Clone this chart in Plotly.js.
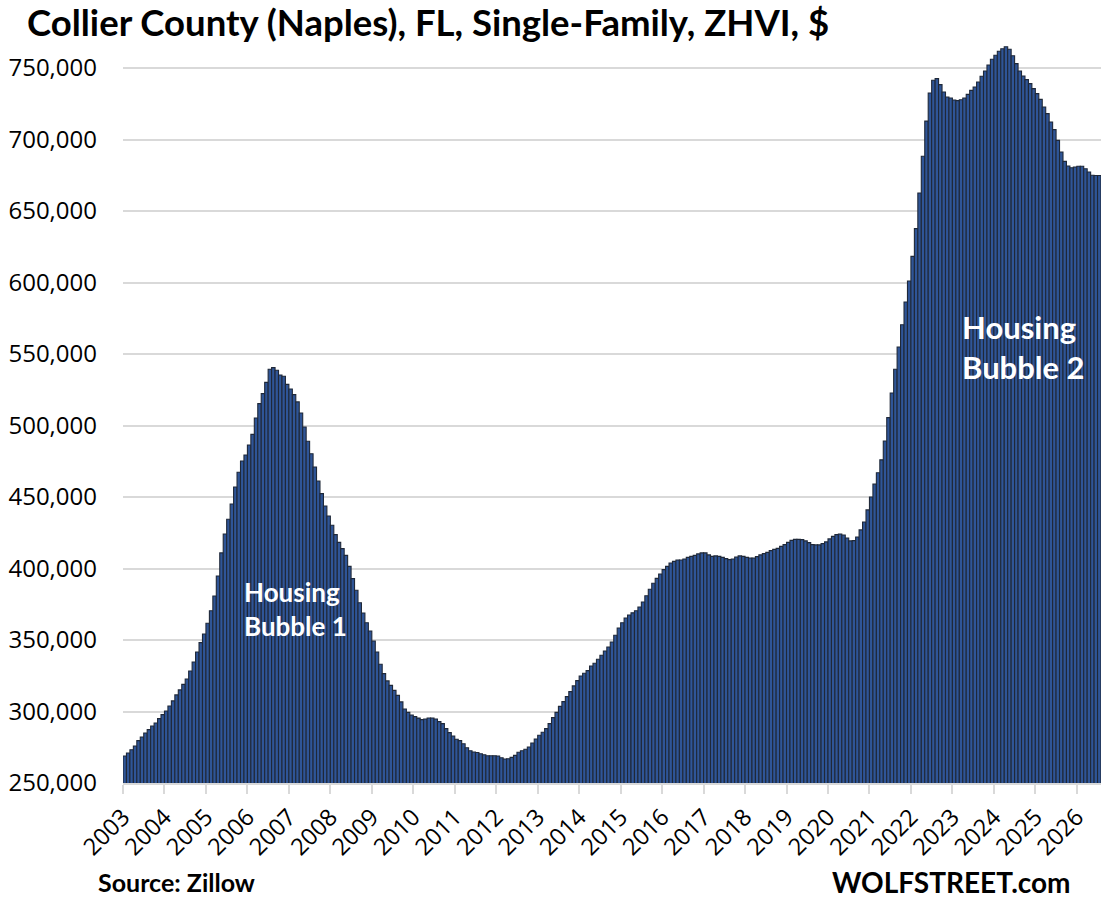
<!DOCTYPE html>
<html>
<head>
<meta charset="utf-8">
<script src="https://cdn.plot.ly/plotly-3.0.1.min.js"></script>
<style>
  html, body { margin: 0; padding: 0; background: #ffffff; }
  #chart { width: 1108px; height: 903px; }
</style>
</head>
<body>
<div id="chart"></div>
<script>
// Collier County (Naples), FL, Single-Family ZHVI, monthly, starting Jan 2003 ($)
const zhvi2003to2005 = [
  268900, 271000, 273300, 275900, 279600, 282200, 285000, 287300, 289900, 292000, 295000, 297800,
  300400, 303900, 307400, 311600, 315100, 319000, 322700, 328300, 334600, 341600, 348200, 354200,
  361700, 370500, 380800, 394800, 410900, 424100, 434400, 445100, 457000, 467300, 475200, 479400
];
const zhvi2006to2008 = [
  486400, 493800, 505300, 515300, 522300, 530200, 539300, 540500, 538600, 535300, 534400, 528800,
  525500, 521600, 516500, 508800, 499000, 489000, 480300, 471000, 461200, 452400, 443700, 436700,
  430200, 423700, 418300, 413900, 409200, 401500, 392900, 384800, 376100, 368900, 362100, 356300
];
const zhvi2009to2011 = [
  349300, 341600, 333000, 326500, 321400, 318300, 314800, 311300, 306700, 301800, 299400, 297600,
  296400, 295400, 294300, 294800, 295500, 295500, 294800, 292900, 291500, 288000, 285200, 282900,
  280600, 279600, 277500, 274700, 272600, 271700, 271300, 270500, 269800, 269100, 269100, 269100
];
const zhvi2012to2014 = [
  268900, 267700, 266800, 267000, 267900, 269300, 271500, 272600, 273600, 275200, 278000, 280800,
  283400, 285500, 288000, 291500, 295700, 299400, 303600, 306900, 310400, 313900, 317900, 321600,
  324800, 326700, 328600, 331800, 333700, 336500, 339300, 342300, 345100, 348600, 353300, 358400
];
const zhvi2015to2017 = [
  362100, 365400, 367500, 369000, 370500, 373100, 376600, 381000, 385500, 389700, 393100, 396200,
  399200, 401500, 403900, 405000, 406000, 406000, 406700, 407800, 408500, 409200, 410200, 410900,
  410900, 409500, 408500, 408800, 408500, 407800, 406900, 406200, 406700, 408100, 408800, 408500
];
const zhvi2018to2020 = [
  407800, 407400, 407400, 408300, 409500, 410400, 411300, 412500, 413400, 414100, 415500, 416700,
  418300, 419700, 420400, 420400, 420200, 419300, 418100, 416700, 416500, 416500, 417400, 418600,
  420700, 422500, 423700, 424100, 423400, 421300, 419300, 419500, 422000, 427000, 432500, 441000
];
const zhvi2021to2023 = [
  450000, 459000, 467000, 476000, 489200, 505500, 522700, 539300, 554900, 570500, 586400, 601100,
  618300, 637700, 662600, 688300, 712900, 732500, 741400, 742600, 738400, 733200, 729700, 729000,
  727600, 727200, 727800, 729000, 731600, 734400, 736700, 740200, 744200, 747900, 752100, 756100
];
const zhvi2024to2026 = [
  758900, 761700, 763500, 764900, 763100, 758600, 753100, 747900, 744400, 741900, 739100, 735600,
  732100, 728100, 722700, 718100, 712300, 706900, 699400, 691300, 684700, 681500, 680300, 680800,
  681300, 681300, 679600, 677300, 675000, 674800, 674800
];
const yearLabels = ['2003','2004','2005','2006','2007','2008','2009','2010','2011','2012','2013','2014',
                    '2015','2016','2017','2018','2019','2020','2021','2022','2023','2024','2025','2026'];
const yTickValues = [250000, 300000, 350000, 400000, 450000, 500000, 550000, 600000, 650000, 700000, 750000];

const zhvi = [].concat(zhvi2003to2005, zhvi2006to2008, zhvi2009to2011, zhvi2012to2014,
                       zhvi2015to2017, zhvi2018to2020, zhvi2021to2023, zhvi2024to2026);
const monthIndex = zhvi.map((_, i) => i);
const yearTickPos = yearLabels.map((_, i) => i * 12 - 0.5);

const FONT = 'Lato, "Noto Sans", "DejaVu Sans", sans-serif';
const TICKFONT = '"Open Sans", Lato, "DejaVu Sans", sans-serif';

const trace = {
  type: 'bar',
  x: monthIndex,
  y: zhvi,
  marker: { color: '#2F5597', line: { color: '#1F2838', width: 1.1 } },
  hoverinfo: 'y'
};

const layout = {
  width: 1108,
  height: 903,
  paper_bgcolor: '#ffffff',
  plot_bgcolor: '#ffffff',
  margin: { l: 123, r: 7, t: 40, b: 120, pad: 0 },
  bargap: 0,
  showlegend: false,
  title: {
    text: '<b>Collier County (Naples), FL, Single-Family, ZHVI, $</b>',
    x: 27 / 1108, xanchor: 'left', xref: 'container',
    y: 1 - 23 / 903, yanchor: 'middle', yref: 'container',
    font: { family: FONT, size: 36.5, color: '#000000' }
  },
  xaxis: {
    range: [-0.5, zhvi.length - 0.5],
    tickmode: 'array',
    tickvals: yearTickPos,
    ticktext: yearLabels,
    tickangle: -45,
    ticks: 'outside',
    ticklen: 9,
    tickwidth: 2,
    tickcolor: '#d9d9d9',
    showline: true,
    linecolor: '#d9d9d9',
    linewidth: 2,
    showgrid: false,
    zeroline: false,
    tickfont: { family: TICKFONT, size: 23.5, color: '#000000' },
    fixedrange: true
  },
  yaxis: {
    range: [250000, 769600],
    tickmode: 'array',
    tickvals: yTickValues,
    tickformat: ',d',
    showgrid: true,
    gridcolor: '#d9d9d9',
    gridwidth: 2,
    zeroline: false,
    showline: false,
    ticks: '',
    ticklabelstandoff: 25,
    tickfont: { family: TICKFONT, size: 24, color: '#000000' },
    fixedrange: true
  },
  annotations: [
    {
      text: '<b>Housing<br>Bubble 1</b>',
      xref: 'paper', yref: 'paper',
      x: (242 - 123) / 978, y: (783 - 574) / 743,
      xanchor: 'left', yanchor: 'top', align: 'left',
      showarrow: false,
      font: { family: FONT, size: 26, color: '#ffffff' }
    },
    {
      text: '<b>Housing<br>Bubble 2</b>',
      xref: 'paper', yref: 'paper',
      x: (960 - 123) / 978, y: (783 - 306) / 743,
      xanchor: 'left', yanchor: 'top', align: 'left',
      showarrow: false,
      font: { family: FONT, size: 31, color: '#ffffff' }
    },
    {
      text: '<b>Source: Zillow</b>',
      xref: 'paper', yref: 'paper',
      x: (96 - 123) / 978, y: (783 - 882) / 743,
      xanchor: 'left', yanchor: 'middle',
      showarrow: false,
      font: { family: FONT, size: 25, color: '#000000' }
    },
    {
      text: '<b>WOLFSTREET.com</b>',
      xref: 'paper', yref: 'paper',
      x: (1073 - 123) / 978, y: (783 - 882) / 743,
      xanchor: 'right', yanchor: 'middle',
      showarrow: false,
      font: { family: FONT, size: 28, color: '#000000' }
    }
  ]
};

Plotly.newPlot('chart', [trace], layout, { displayModeBar: false, staticPlot: true });
</script>
</body>
</html>
